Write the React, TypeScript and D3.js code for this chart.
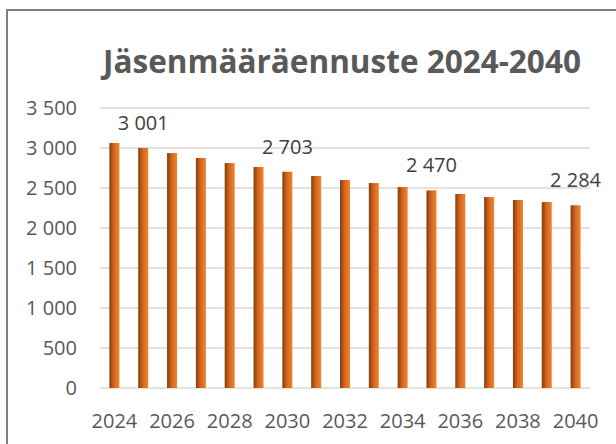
import React from "react";
import * as d3 from "d3";

const years: number[] = [2024, 2025, 2026, 2027, 2028, 2029, 2030, 2031, 2032, 2033, 2034, 2035, 2036, 2037, 2038, 2039, 2040];
const members: number[] = [3062, 3001, 2937, 2875, 2812, 2762, 2703, 2650, 2600, 2562, 2512, 2470, 2425, 2387, 2350, 2325, 2284];
const labelledYears: number[] = [2025, 2030, 2035, 2040];
const yTicks: number[] = [0, 500, 1000, 1500, 2000, 2500, 3000, 3500];
const xTickYears: number[] = [2024, 2026, 2028, 2030, 2032, 2034, 2036, 2038, 2040];
const title = "Jäsenmääräennuste 2024-2040";

const W = 616;
const H = 444;
const FONT = "'Open Sans', 'Liberation Sans', sans-serif";

const fmt = (v: number) => {
  const s = String(Math.round(v));
  return s.replace(/\B(?=(\d{3})+(?!\d))/g, " ");
};

export default function App() {
  const x = d3
    .scaleBand<number>()
    .domain(years)
    .range([100, 590])
    .paddingInner(0.653)
    .paddingOuter(0.3265);
  const y = d3.scaleLinear().domain([0, 3500]).range([388, 108]);

  return (
    <svg
      width={W}
      height={H}
      style={{ position: "absolute", left: 0, top: 0, background: "#fff" }}
      fontFamily={FONT}
    >
      <defs>
        <linearGradient id="barGrad" x1="0" x2="1" y1="0" y2="0">
          <stop offset="0%" stopColor="#843c0c" />
          <stop offset="45%" stopColor="#d0661f" />
          <stop offset="100%" stopColor="#f5832d" />
        </linearGradient>
      </defs>
      <rect x={0} y={0} width={W} height={H} fill="#fff" />
      <rect x={7} y={10} width={W + 20} height={H + 20} fill="none" stroke="#7f7f7f" strokeWidth={2} />

      <text x={342} y={73} textAnchor="middle" fontSize={31.5} fontWeight={700} fill="#595959">
        {title}
      </text>

      {yTicks.map((t) => (
        <g key={t}>
          <line x1={100} x2={590} y1={y(t)} y2={y(t)} stroke="#d9d9d9" strokeWidth={1.5} />
          <text x={77} y={y(t) + 7} textAnchor="end" fontSize={20} fill="#595959">
            {fmt(t)}
          </text>
        </g>
      ))}

      {years.map((yr, i) => (
        <rect
          key={yr}
          x={x(yr)}
          y={y(members[i])}
          width={x.bandwidth()}
          height={y(0) - y(members[i])}
          fill="url(#barGrad)"
        />
      ))}

      {years.map((yr, i) =>
        labelledYears.includes(yr) ? (
          <text
            key={"l" + yr}
            x={(x(yr) as number) + x.bandwidth() / 2}
            y={y(members[i]) - 18}
            textAnchor="middle"
            fontSize={20}
            fill="#404040"
          >
            {fmt(members[i])}
          </text>
        ) : null
      )}

      {xTickYears.map((yr) => (
        <text
          key={"x" + yr}
          x={(x(yr) as number) + x.bandwidth() / 2}
          y={428}
          textAnchor="middle"
          fontSize={20}
          fill="#595959"
        >
          {yr}
        </text>
      ))}
    </svg>
  );
}
